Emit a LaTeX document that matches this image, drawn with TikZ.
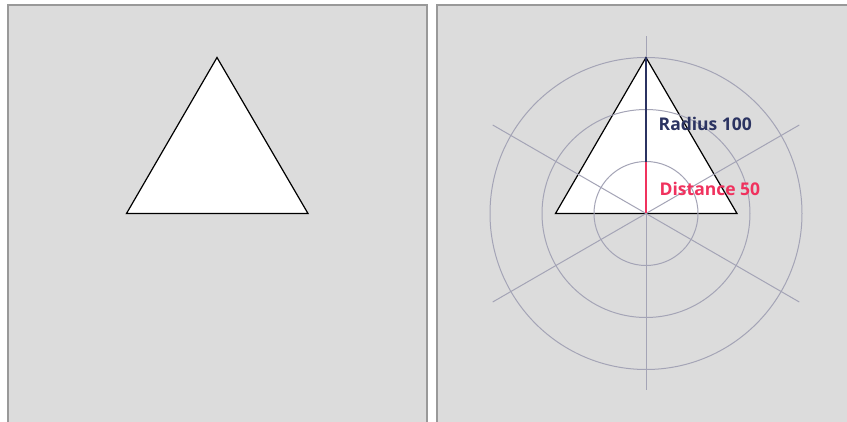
\documentclass[tikz,border=0pt]{standalone}
\usepackage{fontspec}
\newfontfamily\labelfont{Open Sans}
\usetikzlibrary{calc}

\definecolor{panelgray}{HTML}{DCDCDC}
\definecolor{framegray}{HTML}{999999}
\definecolor{gridgray}{HTML}{A4A4B6}
\definecolor{radiusblue}{HTML}{2B3361}
\definecolor{distred}{HTML}{F0325E}

\tikzset{
  panel/.style={fill=panelgray, draw=framegray, line width=2pt},
  tri/.style={fill=white, draw=black, line width=1.2pt, line join=miter},
  gridline/.style={gridgray, line width=1pt},
  lbl/.style={font=\labelfont\bfseries\fontsize{17.5}{20}\selectfont, inner sep=0, anchor=base west}
}

\begin{document}
\begin{tikzpicture}[x=1pt,y=-1pt]
\useasboundingbox (0,0) rectangle (847,422);
\fill[white] (0,0) rectangle (847,422);

% the two panels
\draw[panel] (8,5) rectangle (427,430);
\draw[panel] (437,5) rectangle (860,430);

% left: triangle alone
\draw[tri] (217,57.5) -- (308,213.5) -- (126.5,213.5) -- cycle;

% right: triangle with polar grid
\coordinate (c) at (646,213.5);
\coordinate (apex) at (646,57.5);
\coordinate (mid) at (646,162);
\draw[tri] (apex) -- (737,213.5) -- (555.5,213.5) -- cycle;
\foreach \r in {52,104,156}
  \draw[gridline] (c) circle (\r);
\foreach \a in {30,90,150,210,270,330}
  \draw[gridline] (c) -- ++(\a:177);

\draw[radiusblue, line width=2.4pt] (apex) -- (mid);
\draw[distred, line width=2.4pt] (mid) -- (c);

\node[lbl, text=radiusblue] (radius) at (658.5,131) {Radius 100};
\node[lbl, text=distred] (distance) at (659.5,195.5) {Distance 50};
\end{tikzpicture}
\end{document}
